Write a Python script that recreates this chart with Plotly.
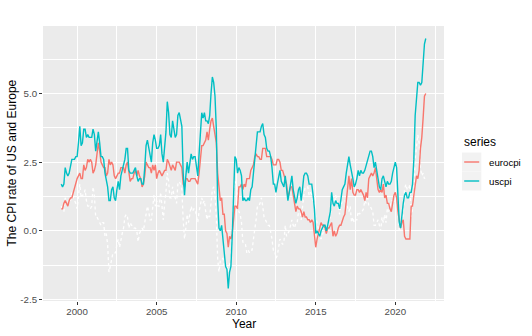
import plotly.graph_objects as go

# Monthly year-on-year CPI inflation (%), Jan 1999 - Dec 2021
uscpi = [
    1.7, 1.6, 1.7, 2.3, 2.1, 2.0, 2.1, 2.3, 2.6, 2.6, 2.6, 2.7,   # 1999
    2.7, 3.2, 3.8, 3.1, 3.2, 3.7, 3.7, 3.4, 3.5, 3.4, 3.4, 3.4,   # 2000
    3.7, 3.5, 2.9, 3.3, 3.6, 3.2, 2.7, 2.7, 2.6, 2.1, 1.9, 1.6,   # 2001
    1.1, 1.1, 1.5, 1.6, 1.2, 1.1, 1.5, 1.8, 1.5, 2.0, 2.2, 2.4,   # 2002
    2.6, 3.0, 3.0, 2.2, 2.1, 2.1, 2.1, 2.2, 2.3, 2.0, 1.8, 1.9,   # 2003
    1.9, 1.7, 1.7, 2.3, 3.1, 3.3, 3.0, 2.7, 2.5, 3.2, 3.5, 3.3,   # 2004
    3.0, 3.0, 3.1, 3.5, 2.8, 2.5, 3.2, 3.6, 4.7, 4.3, 3.5, 3.4,   # 2005
    4.0, 3.6, 3.4, 3.5, 4.2, 4.3, 4.1, 3.8, 2.1, 1.3, 2.0, 2.5,   # 2006
    2.1, 2.4, 2.8, 2.6, 2.7, 2.7, 2.4, 2.0, 2.8, 3.5, 4.3, 4.1,   # 2007
    4.3, 4.0, 4.0, 3.9, 4.2, 5.0, 5.6, 5.4, 4.9, 3.7, 1.1, 0.1,   # 2008
    0.0, 0.2, -0.4, -0.7, -1.3, -1.4, -2.1, -1.5, -1.3, -0.2, 1.8, 2.7,  # 2009
    2.6, 2.1, 2.3, 2.2, 2.0, 1.1, 1.2, 1.1, 1.1, 1.2, 1.1, 1.5,   # 2010
    1.6, 2.1, 2.7, 3.2, 3.6, 3.6, 3.6, 3.8, 3.9, 3.5, 3.4, 3.0,   # 2011
    2.9, 2.9, 2.7, 2.3, 1.7, 1.7, 1.4, 1.7, 2.0, 2.2, 1.8, 1.7,   # 2012
    1.6, 2.0, 1.5, 1.1, 1.4, 1.8, 2.0, 1.5, 1.2, 1.0, 1.2, 1.5,   # 2013
    1.6, 1.1, 1.5, 2.0, 2.1, 2.1, 2.0, 1.7, 1.7, 1.7, 1.3, 0.8,   # 2014
    -0.1, 0.0, -0.1, -0.2, 0.0, 0.1, 0.2, 0.2, 0.0, 0.2, 0.5, 0.7,  # 2015
    1.4, 1.0, 0.9, 1.1, 1.0, 1.0, 0.8, 1.1, 1.5, 1.6, 1.7, 2.1,   # 2016
    2.5, 2.7, 2.4, 2.2, 1.9, 1.6, 1.7, 1.9, 2.2, 2.0, 2.2, 2.1,   # 2017
    2.1, 2.2, 2.4, 2.5, 2.8, 2.9, 2.9, 2.7, 2.3, 2.5, 2.2, 1.9,   # 2018
    1.6, 1.5, 1.9, 2.0, 1.8, 1.6, 1.8, 1.7, 1.7, 1.8, 2.1, 2.3,   # 2019
    2.5, 2.3, 1.5, 0.3, 0.1, 0.6, 1.0, 1.3, 1.4, 1.2, 1.2, 1.4,   # 2020
    1.4, 1.7, 2.6, 4.2, 5.0, 5.4, 5.4, 5.3, 5.4, 6.2, 6.8, 7.0,   # 2021
]

eurocpi = [
    0.8, 0.8, 1.0, 1.1, 1.0, 0.9, 1.1, 1.2, 1.2, 1.4, 1.5, 1.7,   # 1999
    1.9, 2.0, 2.1, 1.9, 1.9, 2.4, 2.2, 2.3, 2.6, 2.5, 2.6, 2.5,   # 2000
    2.1, 2.2, 2.4, 2.8, 3.2, 2.9, 2.5, 2.4, 2.3, 2.3, 2.0, 2.1,   # 2001
    2.6, 2.4, 2.5, 2.4, 2.0, 1.9, 2.0, 2.1, 2.1, 2.3, 2.3, 2.3,   # 2002
    2.1, 2.4, 2.5, 2.1, 1.8, 1.9, 1.9, 2.1, 2.2, 2.0, 2.2, 2.0,   # 2003
    1.9, 1.6, 1.7, 2.0, 2.5, 2.4, 2.3, 2.3, 2.1, 2.4, 2.2, 2.4,   # 2004
    1.9, 2.1, 2.2, 2.1, 2.0, 2.1, 2.2, 2.2, 2.6, 2.5, 2.3, 2.2,   # 2005
    2.4, 2.3, 2.2, 2.5, 2.5, 2.5, 2.4, 2.3, 1.7, 1.6, 1.9, 1.9,   # 2006
    1.8, 1.8, 1.9, 1.9, 1.9, 1.9, 1.8, 1.7, 2.1, 2.6, 3.1, 3.1,   # 2007
    3.2, 3.3, 3.6, 3.3, 3.7, 4.0, 4.1, 3.8, 3.6, 3.2, 2.1, 1.6,   # 2008
    1.1, 1.2, 0.6, 0.6, 0.0, -0.1, -0.6, -0.2, -0.3, -0.1, 0.5, 0.9,  # 2009
    0.9, 0.8, 1.6, 1.6, 1.7, 1.5, 1.7, 1.6, 1.9, 1.9, 1.9, 2.2,   # 2010
    2.3, 2.4, 2.7, 2.8, 2.7, 2.7, 2.6, 2.6, 3.0, 3.0, 3.0, 2.7,   # 2011
    2.7, 2.7, 2.7, 2.6, 2.4, 2.4, 2.4, 2.6, 2.6, 2.5, 2.2, 2.2,   # 2012
    2.0, 1.8, 1.7, 1.2, 1.4, 1.6, 1.6, 1.3, 1.1, 0.7, 0.9, 0.8,   # 2013
    0.8, 0.7, 0.5, 0.7, 0.5, 0.5, 0.4, 0.4, 0.3, 0.4, 0.3, -0.2,  # 2014
    -0.6, -0.3, -0.1, 0.0, 0.3, 0.2, 0.2, 0.1, -0.1, 0.1, 0.1, 0.2,  # 2015
    0.3, -0.2, 0.0, -0.2, -0.1, 0.1, 0.2, 0.2, 0.4, 0.5, 0.6, 1.1,  # 2016
    1.7, 2.0, 1.5, 1.9, 1.4, 1.3, 1.3, 1.5, 1.5, 1.4, 1.5, 1.4,   # 2017
    1.3, 1.1, 1.4, 1.2, 1.9, 2.0, 2.1, 2.0, 2.1, 2.3, 1.9, 1.5,   # 2018
    1.4, 1.5, 1.4, 1.7, 1.2, 1.3, 1.0, 1.0, 0.8, 0.7, 1.0, 1.3,   # 2019
    1.4, 1.2, 0.7, 0.3, 0.1, 0.3, 0.4, -0.2, -0.3, -0.3, -0.3, -0.3,  # 2020
    0.9, 0.9, 1.3, 1.6, 2.0, 1.9, 2.2, 3.0, 3.4, 4.1, 4.9, 5.0,   # 2021
]

start_year = 1999
x_ticks = [2000, 2005, 2010, 2015, 2020]
y_ticks = [-2.5, 0.0, 2.5, 5.0]
y_tick_labels = ["-2.5", "0.0", "2.5", "5.0"]

series_colors = {"eurocpi": "#F8766D", "uscpi": "#00BFC4"}

# decimal-year time index, one point per month
t = [start_year + i / 12 for i in range(len(uscpi))]
# spread between the two inflation rates
spread = [u - e for u, e in zip(uscpi, eurocpi)]

# ggplot-like 5% expansion of the data range
def expand(lo, hi, frac=0.05):
    d = (hi - lo) * frac
    return [lo - d, hi + d]

x_range = expand(min(t), max(t))
all_y = uscpi + eurocpi + spread
y_range = expand(min(all_y), max(all_y))

W, H = 532, 336
L, R, T, B = 43, 88, 26, 35
PW, PH = W - L - R, H - T - B

def px(xp):
    return (xp - L) / PW

def py(yp):
    return 1 - (yp - T) / PH

FONT = "Liberation Sans, Arial, Helvetica, sans-serif"

fig = go.Figure()

fig.add_trace(go.Scatter(
    x=t, y=spread, mode="lines", showlegend=False,
    line=dict(color="rgba(255,255,255,0.95)", width=1.3, dash="dot"),
    hoverinfo="skip",
))
for name, vals in (("eurocpi", eurocpi), ("uscpi", uscpi)):
    fig.add_trace(go.Scatter(
        x=t, y=vals, mode="lines", name=name, showlegend=False,
        line=dict(color=series_colors[name], width=1.4),
    ))

axis_common = dict(
    showgrid=True, gridcolor="white", gridwidth=1.2,
    zeroline=False, showline=False,
    ticks="outside", ticklen=3, tickwidth=1, tickcolor="#333333",
    tickfont=dict(family=FONT, size=9.7, color="#4D4D4D"),
)

fig.update_xaxes(
    range=x_range, tickvals=x_ticks, ticktext=[str(v) for v in x_ticks],
    ticklabelstandoff=-2,
    minor=dict(tickvals=[v + 2.5 for v in [1995] + x_ticks], showgrid=True,
               gridcolor="white", gridwidth=0.6, ticks=""),
    **axis_common,
)
fig.update_yaxes(
    range=y_range, tickvals=y_ticks, ticktext=y_tick_labels,
    minor=dict(tickvals=[v + 1.25 for v in [-5.0] + y_ticks], showgrid=True,
               gridcolor="white", gridwidth=0.6, ticks=""),
    **axis_common,
)

annotations = [
    dict(text="Year", x=px((L + W - R) / 2), y=py(324), xref="paper", yref="paper",
         showarrow=False, xanchor="center", yanchor="middle",
         font=dict(family=FONT, size=12, color="black")),
    dict(text="The CPI rate of US and Europe", x=px(11), y=py(T + PH / 2),
         xref="paper", yref="paper", textangle=-90, showarrow=False,
         xanchor="center", yanchor="middle",
         font=dict(family=FONT, size=12, color="black")),
    dict(text="series", x=px(462), y=py(141.5), xref="paper", yref="paper",
         showarrow=False, xanchor="left", yanchor="middle",
         font=dict(family=FONT, size=12, color="black")),
]

shapes = []
key_top = 152.5
key_h = 19
for i, name in enumerate(("eurocpi", "uscpi")):
    y0 = key_top + i * key_h
    yc = y0 + key_h / 2
    shapes.append(dict(type="rect", xref="paper", yref="paper",
                       x0=px(462), x1=px(481.3), y0=py(y0), y1=py(y0 + key_h),
                       fillcolor="#F2F2F2", line=dict(width=0), layer="below"))
    shapes.append(dict(type="line", xref="paper", yref="paper",
                       x0=px(464.2), x1=px(479.2), y0=py(yc), y1=py(yc),
                       line=dict(color=series_colors[name], width=1.4)))
    annotations.append(dict(text=name, x=px(487), y=py(yc), xref="paper", yref="paper",
                            showarrow=False, xanchor="left", yanchor="middle",
                            font=dict(family=FONT, size=9.7, color="black")))

fig.update_layout(
    width=W, height=H,
    margin=dict(l=L, r=R, t=T, b=B, pad=0),
    paper_bgcolor="white", plot_bgcolor="#EBEBEB",
    font=dict(family=FONT),
    showlegend=False,
    annotations=annotations,
    shapes=shapes,
)

fig.write_html("out.html")
